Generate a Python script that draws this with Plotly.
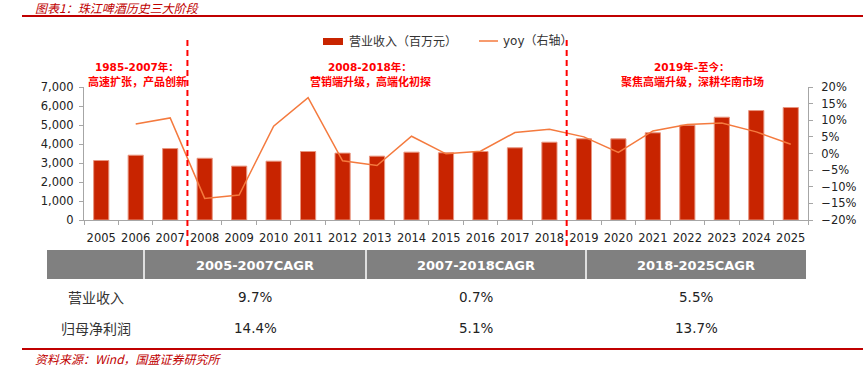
import plotly.graph_objects as go

# ---------------- data ----------------
years = [str(y) for y in range(2005, 2026)]
revenue = [3130, 3410, 3760, 3250, 2835, 3095, 3605, 3520, 3360, 3570, 3540, 3605,
           3800, 4095, 4275, 4270, 4590, 4990, 5410, 5760, 5920]
yoy_years = years[1:]
yoy = [0.089, 0.107, -0.135, -0.125, 0.082, 0.168, -0.022, -0.036, 0.052, -0.001,
       0.007, 0.063, 0.073, 0.050, 0.003, 0.068, 0.087, 0.092, 0.065, 0.028]

bar_name = "营业收入（百万元）"
line_name = "yoy（右轴）"

phase_split_after = ["2007", "2018"]
phase_titles = ["1985-2007年：", "2008-2018年：", "2019年-至今："]
phase_descs = ["高速扩张，产品创新", "营销端升级，高端化初探", "聚焦高端升级，深耕华南市场"]

table_headers = ["2005-2007CAGR", "2007-2018CAGR", "2018-2025CAGR"]
table_row_labels = ["营业收入", "归母净利润"]
table_rows = [["9.7%", "0.7%", "5.5%"], ["14.4%", "5.1%", "13.7%"]]

title_text = "图表1：珠江啤酒历史三大阶段"
source_text = "资料来源：Wind，国盛证券研究所"

# ---------------- layout helpers ----------------
W, H = 863, 368
L, R, T, B = 84, 808, 87, 220


def xp(px):
    return (px - L) / (R - L)


def yp(py):
    return (B - py) / (B - T)


BAR_C = "#C82400"
LINE_C = "#F47A3E"
RED = "#FF0000"
DARK_RED = "#C00000"
FONT = "DejaVu Sans, Noto Sans CJK SC, sans-serif"
CJK = "Noto Sans CJK SC, sans-serif"

fig = go.Figure()
fig.add_trace(go.Bar(x=years, y=revenue, name=bar_name, marker_color=BAR_C,
                     marker_line=dict(color="#E8957F", width=1), width=0.44,
                     showlegend=False, yaxis="y"))
fig.add_trace(go.Scatter(x=yoy_years, y=yoy, name=line_name, mode="lines",
                         line=dict(color=LINE_C, width=1.5), showlegend=False,
                         yaxis="y2"))

shapes = []
annotations = []

# dashed phase separators
n = len(years)
for yr in phase_split_after:
    i = years.index(yr)
    xx = (i + 1) / n
    shapes.append(dict(type="line", xref="paper", yref="paper", x0=xx, x1=xx,
                       y0=yp(40), y1=yp(249), line=dict(color=RED, width=2, dash="6px,4px"),
                       layer="above"))

# phase annotations
phase_x = [137, 370, 692]
for px, t1, t2 in zip(phase_x, phase_titles, phase_descs):
    annotations.append(dict(x=xp(px), y=yp(67), xref="paper", yref="paper", text="<b>" + t1 + "</b>",
                            showarrow=False, xanchor="center", yanchor="middle",
                            font=dict(family=FONT, size=10.5, color=RED)))
    annotations.append(dict(x=xp(px), y=yp(81), xref="paper", yref="paper", text="<b>" + t2 + "</b>",
                            showarrow=False, xanchor="center", yanchor="middle",
                            font=dict(family=CJK, size=11, color=RED)))

# manual legend
shapes.append(dict(type="rect", xref="paper", yref="paper", x0=xp(323), x1=xp(343),
                   y0=yp(38), y1=yp(45), fillcolor=BAR_C, line=dict(width=0)))
annotations.append(dict(x=xp(347), y=yp(41), xref="paper", yref="paper", text=bar_name,
                        showarrow=False, xanchor="left", yanchor="middle",
                        font=dict(family=CJK, size=12, color="#333333")))
shapes.append(dict(type="line", xref="paper", yref="paper", x0=xp(479), x1=xp(498),
                   y0=yp(41), y1=yp(41), line=dict(color=LINE_C, width=1.5)))
annotations.append(dict(x=xp(501), y=yp(41), xref="paper", yref="paper", text=line_name,
                        showarrow=False, xanchor="left", yanchor="middle",
                        font=dict(family=FONT, size=12, color="#333333")))

# top title and rules
annotations.append(dict(x=xp(33), y=yp(7), xref="paper", yref="paper", text="<i>" + title_text + "</i>",
                        showarrow=False, xanchor="left", yanchor="middle",
                        font=dict(family=CJK, size=12, color=DARK_RED)))
shapes.append(dict(type="line", xref="paper", yref="paper", x0=xp(22), x1=xp(863),
                   y0=yp(16), y1=yp(16), line=dict(color=DARK_RED, width=2)))
shapes.append(dict(type="line", xref="paper", yref="paper", x0=xp(22), x1=xp(863),
                   y0=yp(349), y1=yp(349), line=dict(color=DARK_RED, width=2)))
annotations.append(dict(x=xp(33), y=yp(358), xref="paper", yref="paper", text="<i>" + source_text + "</i>",
                        showarrow=False, xanchor="left", yanchor="middle",
                        font=dict(family=CJK, size=12, color=DARK_RED)))

# table
col_edges = [47, 144, 366, 586, 806]
shapes.append(dict(type="rect", xref="paper", yref="paper", x0=xp(col_edges[0]), x1=xp(col_edges[-1]),
                   y0=yp(250), y1=yp(279), fillcolor="#808080", line=dict(width=0), layer="below"))
for ce in col_edges[1:-1]:
    shapes.append(dict(type="line", xref="paper", yref="paper", x0=xp(ce), x1=xp(ce),
                       y0=yp(250), y1=yp(279), line=dict(color="#FFFFFF", width=1.5)))
col_centers = [(col_edges[i] + col_edges[i + 1]) / 2 for i in range(len(col_edges) - 1)]
for cx, h in zip(col_centers[1:], table_headers):
    annotations.append(dict(x=xp(cx), y=yp(265), xref="paper", yref="paper", text="<b>" + h + "</b>",
                            showarrow=False, xanchor="center", yanchor="middle",
                            font=dict(family=FONT, size=13, color="#FFFFFF")))
row_y = [297, 328]
for ry, lab, vals in zip(row_y, table_row_labels, table_rows):
    annotations.append(dict(x=xp(96), y=yp(ry), xref="paper", yref="paper", text=lab,
                            showarrow=False, xanchor="center", yanchor="middle",
                            font=dict(family=CJK, size=14, color="#333333")))
    for cx, v in zip(col_centers[1:], vals):
        annotations.append(dict(x=xp(cx), y=yp(ry), xref="paper", yref="paper", text=v,
                                showarrow=False, xanchor="center", yanchor="middle",
                                font=dict(family=FONT, size=13.5, color="#222222")))

axis_line = "#A6A6A6"
fig.update_layout(
    width=W, height=H, autosize=False,
    margin=dict(l=L, r=W - R, t=T, b=H - B, pad=0, autoexpand=False),
    paper_bgcolor="white", plot_bgcolor="white",
    font=dict(family=FONT, size=11, color="#222222"),
    xaxis=dict(type="category", showgrid=False, showline=True, linecolor=axis_line, linewidth=1,
               ticks="outside", ticklen=4, tickcolor=axis_line, tickson="boundaries",
               tickangle=0, automargin=False,
               tickfont=dict(size=11.5, color="#222222"), ticklabelstandoff=7,
               range=[-0.5, n - 0.5], fixedrange=True),
    yaxis=dict(range=[0, 7000], dtick=1000, tickformat=",d", showgrid=False, zeroline=False,
               showline=True, linecolor=axis_line, linewidth=1, ticks="outside", ticklen=4,
               automargin=False, ticklabelstandoff=3,
               tickcolor=axis_line, tickfont=dict(size=11.5, color="#222222")),
    yaxis2=dict(range=[-0.2, 0.2], dtick=0.05, tickformat=".0%", overlaying="y", side="right",
                showgrid=False, zeroline=False, showline=True, linecolor=axis_line, linewidth=1,
                ticks="outside", ticklen=4, tickcolor=axis_line, automargin=False,
                ticklabelstandoff=6,
                tickfont=dict(size=11.5, color="#222222")),
    shapes=shapes,
    annotations=annotations,
    showlegend=False,
)

fig.write_html("out.html", config={"displayModeBar": False},
               post_script="document.body.style.margin='0px';")
